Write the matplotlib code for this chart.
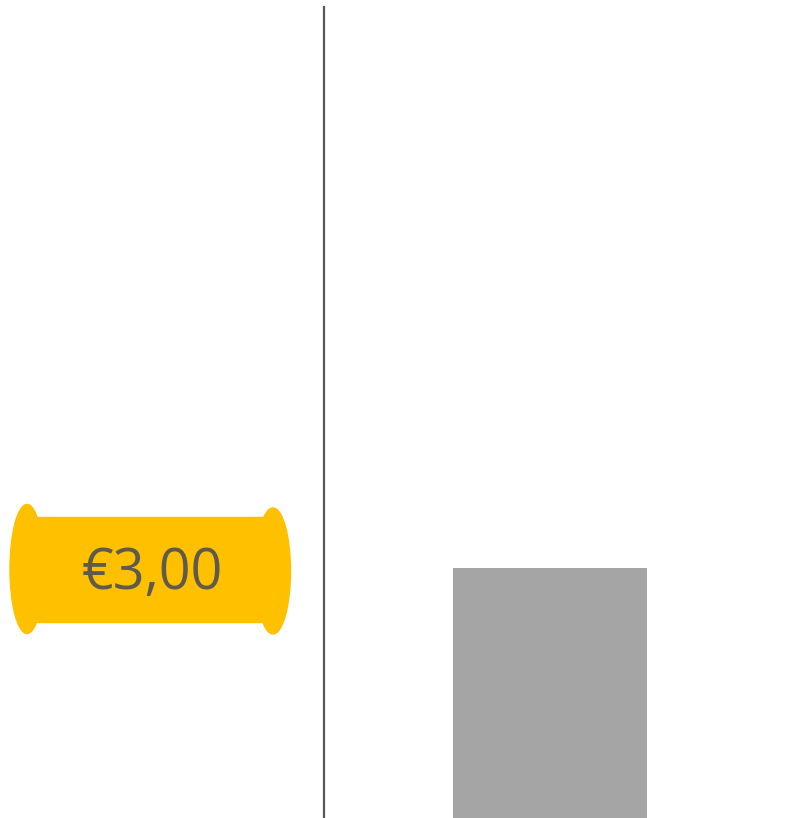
import matplotlib
matplotlib.use("Agg")
import matplotlib.pyplot as plt
from matplotlib.patches import Rectangle, Ellipse
from matplotlib.transforms import IdentityTransform

# data
categories = ["Prijs"]
values = [3.00]
label_text = "€3,00"

W, H = 788, 818
fig = plt.figure(figsize=(W / 100, H / 100), dpi=100)
ax = fig.add_axes([324 / W, 0, 1 - 324 / W, (H - 7) / H])

ax.bar(range(len(categories)), values, width=0.8, color="#A5A5A5", zorder=2)
ax.set_ylim(0, 9.73)
ax.set_xlim(-0.932, 0.981)

for s in ["top", "right", "bottom"]:
    ax.spines[s].set_visible(False)
ax.spines["left"].set_color("#595959")
ax.spines["left"].set_linewidth(1.6)
ax.set_xticks([])
ax.set_yticks([])

# yellow scroll badge at the bar value, in pixel coords
fig.canvas.draw()
yp = ax.transData.transform((0, values[0]))[1] - 2
ident = IdentityTransform()
gold = "#FFC000"
fig.patches.append(Rectangle((27, yp - 52), 246, 105, color=gold, transform=ident, figure=fig))
fig.patches.append(Ellipse((27, yp + 1), 34, 129, color=gold, transform=ident, figure=fig))
fig.patches.append(Ellipse((273, yp - 1), 35, 126, color=gold, transform=ident, figure=fig))
fig.text(152 / W, (yp - 5) / H, label_text, ha="center", va="center",
         fontsize=40, color="#5F5A4E", family=["Open Sans", "DejaVu Sans"])

fig.savefig("out.png", dpi=100)
